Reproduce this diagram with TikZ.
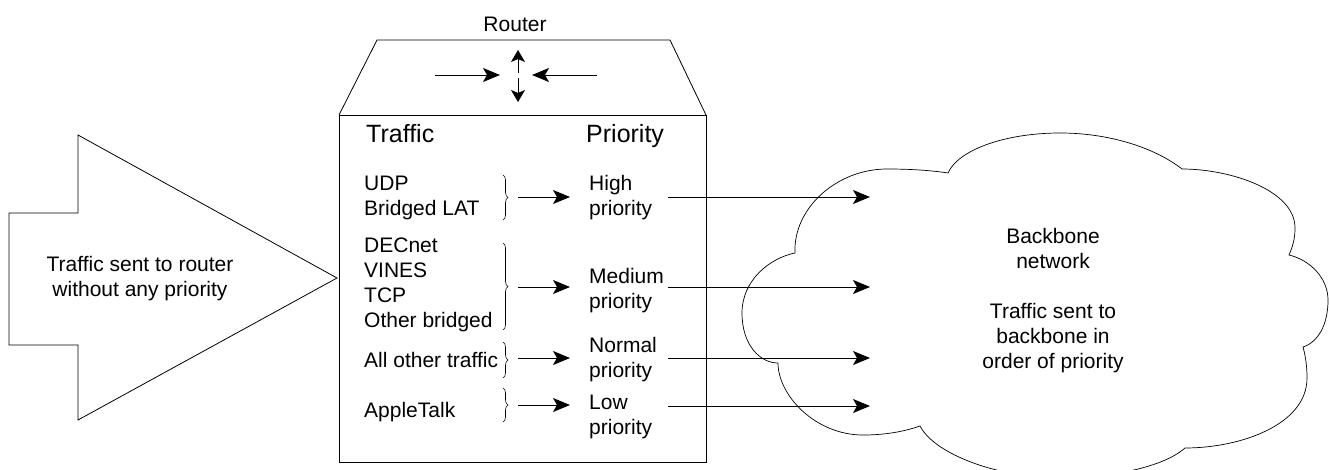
\documentclass[tikz,border=0pt]{standalone}
\usepackage{fontspec}
\setmainfont{Liberation Sans}
\usetikzlibrary{arrows.meta,decorations.pathreplacing}
\begin{document}
\begin{tikzpicture}[x=1pt,y=-1pt,
  outline/.style={draw=black,line width=0.8pt,line join=miter},
  lbl/.style={inner sep=0pt,anchor=base west,align=left,font=\fontsize{21}{25}\selectfont},
  ctr/.style={inner sep=0pt,anchor=base,align=center,font=\fontsize{21}{25}\selectfont},
  head/.style={inner sep=0pt,anchor=base west,font=\fontsize{25}{29}\selectfont},
  arr/.style={line width=0.9pt,-{Stealth[length=17pt,width=14pt,inset=4pt]}},
  sarr/.style={line width=0.9pt,-{Stealth[length=12pt,width=14pt,inset=3pt]}},
  brc/.style={draw,line width=0.6pt,decorate,decoration={brace,amplitude=5pt}}
]
\useasboundingbox (0,0) rectangle (1329,470);

% incoming traffic arrow
\draw[outline] (9,213) -- (78,213) -- (78,135) -- (337,278) -- (78,420) -- (78,345) -- (9,345) -- cycle;
\node[ctr] (intext) at (140,296) {Traffic sent to router\\without any priority};

% router
\draw[outline] (339,115) rectangle (706,462);
\draw[outline] (339,115) -- (377,40) -- (670,40) -- (706,115);
\node[ctr] (router) at (515,32) {Router};
\coordinate (rl0) at (435,75); \coordinate (rl1) at (500,75);
\coordinate (rr0) at (597,75); \coordinate (rr1) at (532,75);
\coordinate (ru0) at (518,73); \coordinate (ru1) at (518,50);
\coordinate (rd0) at (518,78); \coordinate (rd1) at (518,102);
\draw[arr] (rl0) -- (rl1);
\draw[arr] (rr0) -- (rr1);
\draw[sarr] (ru0) -- (ru1);
\draw[sarr] (rd0) -- (rd1);

% headings
\node[head] (thead) at (366,143) {Traffic};
\node[head] (phead) at (586,143) {Priority};

% traffic classes (anchor = baseline of last line)
\node[lbl] (t1) at (364,216) {UDP\\Bridged LAT};
\node[lbl] (t2) at (364,327) {DECnet\\VINES\\TCP\\Other bridged};
\node[lbl] (t3) at (364,367) {All other traffic};
\node[lbl] (t4) at (364,417) {AppleTalk};

% priorities
\node[lbl] (p1) at (589,216) {High\\priority};
\node[lbl] (p2) at (589,308) {Medium\\priority};
\node[lbl] (p3) at (589,377) {Normal\\priority};
\node[lbl] (p4) at (589,434) {Low\\priority};

% braces
\draw[brc] (503,175) -- (503,220);
\draw[brc] (503,243) -- (503,330);
\draw[brc] (503,342) -- (503,378);
\draw[brc] (503,388) -- (503,422);

% brace -> priority arrows
\coordinate (a1) at (518,197); \coordinate (b1) at (570,197);
\coordinate (a2) at (518,287); \coordinate (b2) at (570,287);
\coordinate (a3) at (518,358); \coordinate (b3) at (570,358);
\coordinate (a4) at (518,405); \coordinate (b4) at (570,405);
\draw[arr] (a1) -- (b1);
\draw[arr] (a2) -- (b2);
\draw[arr] (a3) -- (b3);
\draw[arr] (a4) -- (b4);

% cloud
\draw[outline,line width=0.7pt]
  (795,253) .. controls (793,208) and (837,169) .. (887,169)
  .. controls (915,169) and (935,171) .. (948,173)
  .. controls (958,150) and (1005,133) .. (1060,133)
  .. controls (1110,133) and (1155,148) .. (1182,169)
  .. controls (1230,169) and (1295,190) .. (1295,228)
  .. controls (1295,240) and (1292,248) .. (1289,255)
  .. controls (1310,260) and (1328,278) .. (1328,300)
  .. controls (1328,325) and (1318,342) .. (1303,347)
  .. controls (1306,358) and (1307,368) .. (1307,378)
  .. controls (1307,425) and (1240,448) .. (1185,448)
  .. controls (1160,470) and (1100,478) .. (1060,478)
  .. controls (1000,478) and (935,455) .. (920,426)
  .. controls (900,433) and (880,435) .. (863,435)
  .. controls (815,435) and (778,395) .. (778,363)
  .. controls (760,363) and (742,345) .. (742,313)
  .. controls (742,280) and (770,258) .. (795,253) -- cycle;
\node[ctr] (cloudtext) at (1053,368) {Backbone\\network\\[25pt]Traffic sent to\\backbone in\\order of priority};

% priority -> backbone arrows
\coordinate (s1) at (668,197); \coordinate (e1) at (870,197);
\coordinate (s2) at (668,287); \coordinate (e2) at (870,287);
\coordinate (s3) at (668,358); \coordinate (e3) at (870,358);
\coordinate (s4) at (668,406); \coordinate (e4) at (870,406);
\draw[arr] (s1) -- (e1);
\draw[arr] (s2) -- (e2);
\draw[arr] (s3) -- (e3);
\draw[arr] (s4) -- (e4);
\end{tikzpicture}
\end{document}
